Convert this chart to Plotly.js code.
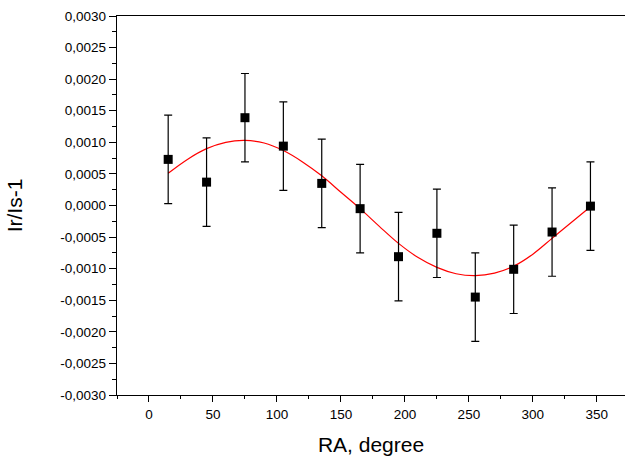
<!DOCTYPE html>
<html>
<head>
<meta charset="utf-8">
<script src="https://cdn.plot.ly/plotly-3.0.1.min.js"></script>
<style>html,body{margin:0;padding:0;background:#fff;}#chart{width:625px;height:458px;}</style>
</head>
<body>
<div id="chart"></div>
<script>
// measured points
const ra = [15, 45, 75, 105, 135, 165, 195, 225, 255, 285, 315, 345];
const ratio = [0.00073, 0.00037, 0.00139, 0.00094, 0.00035, -0.00005, -0.00081, -0.00044, -0.00145, -0.00101, -0.00042, -0.00001];
const errs = [0.0007, 0.0007, 0.0007, 0.0007, 0.0007, 0.0007, 0.0007, 0.0007, 0.0007, 0.0007, 0.0007, 0.0007];
// fit curve
const fitX = [15, 30, 45, 60, 75, 90, 105, 120, 135, 150, 165, 180, 195, 210, 225, 240, 255, 270, 285, 300, 315, 330, 345];
const fitY = [0.00051, 0.00073, 0.00090, 0.00100, 0.00103, 0.00099, 0.00087, 0.00069, 0.00047, 0.00021, -0.00005, -0.00033, -0.00060, -0.00082, -0.00098, -0.00108, -0.00111, -0.00107, -0.00096, -0.00077, -0.00052, -0.00027, -0.00002];
// tick labels
const yTickVals = [-0.003, -0.0025, -0.002, -0.0015, -0.001, -0.0005, 0, 0.0005, 0.001, 0.0015, 0.002, 0.0025, 0.003];
const yTickText = ["-0,0030", "-0,0025", "-0,0020", "-0,0015", "-0,0010", "-0,0005", "0,0000", "0,0005", "0,0010", "0,0015", "0,0020", "0,0025", "0,0030"];
const xTickVals = [0, 50, 100, 150, 200, 250, 300, 350];
const xTickText = ["0", "50", "100", "150", "200", "250", "300", "350"];

const font = "Liberation Sans, Arial, sans-serif";

const traces = [
  {
    x: fitX, y: fitY, type: "scatter", mode: "lines",
    line: {color: "#ff0000", width: 1.2, shape: "spline", smoothing: 1},
    hoverinfo: "skip"
  },
  {
    x: ra, y: ratio, type: "scatter", mode: "markers",
    marker: {symbol: "square", size: 9, color: "#000"},
    error_y: {type: "data", array: errs, visible: true, color: "#000", thickness: 1.2, width: 4}
  }
];

const layout = {
  width: 625, height: 458,
  margin: {l: 117, r: 0, t: 16, b: 63},
  paper_bgcolor: "#fff", plot_bgcolor: "#fff",
  showlegend: false,
  font: {family: font, color: "#000", size: 13},
  xaxis: {
    range: [-25, 372],
    tickmode: "array", tickvals: xTickVals, ticktext: xTickText,
    ticks: "outside", ticklen: 6, tickwidth: 1, tickcolor: "#000",
    minor: {ticks: "outside", ticklen: 3, tickwidth: 1, tickcolor: "#000", dtick: 25, tick0: 0},
    showline: true, linecolor: "#000", linewidth: 1.3, mirror: true,
    showgrid: false, zeroline: false,
    tickfont: {size: 13.5, family: font},
    title: {text: "RA, degree", font: {size: 21, family: font}, standoff: 16}
  },
  yaxis: {
    range: [-0.003, 0.003],
    tickmode: "array", tickvals: yTickVals, ticktext: yTickText,
    ticks: "outside", ticklen: 7, tickwidth: 1, tickcolor: "#000",
    minor: {ticks: "outside", ticklen: 4, tickwidth: 1, tickcolor: "#000", dtick: 0.00025, tick0: 0},
    showline: true, linecolor: "#000", linewidth: 1.3, mirror: false,
    showgrid: false, zeroline: false,
    tickfont: {size: 13.5, family: font},
    title: {text: "Ir/Is-1", font: {size: 21, family: font}, standoff: 32}
  }
};

Plotly.newPlot("chart", traces, layout, {displayModeBar: false, staticPlot: true});
</script>
</body>
</html>
